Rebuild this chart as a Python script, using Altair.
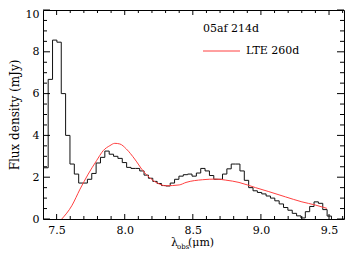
import altair as alt
import pandas as pd

# ---- data ----
hist_wl = [7.390, 7.438, 7.470, 7.502, 7.534, 7.566, 7.598, 7.630, 7.662, 7.694, 7.726,
           7.758, 7.790, 7.822, 7.854, 7.886, 7.918, 7.950, 7.982, 8.014, 8.046,
           8.078, 8.110, 8.142, 8.174, 8.206, 8.238, 8.270, 8.302, 8.334, 8.366,
           8.398, 8.430, 8.462, 8.494, 8.526, 8.558, 8.590, 8.622, 8.654, 8.686,
           8.718, 8.750, 8.782, 8.814, 8.846, 8.878, 8.910, 8.942, 8.974, 9.006,
           9.038, 9.070, 9.102, 9.134, 9.166, 9.198, 9.230, 9.262, 9.294, 9.326,
           9.358, 9.390, 9.422, 9.454, 9.486, 9.518]
hist_flux = [2.45, 6.68, 8.56, 8.46, 6.00, 4.00, 2.63, 2.15, 1.72, 1.72, 1.90,
             2.18, 2.68, 2.95, 3.25, 3.10, 3.00, 2.90, 2.70, 2.47, 2.42,
             2.42, 2.30, 2.10, 1.95, 1.80, 1.70, 1.60, 1.58, 1.72, 1.90,
             2.05, 2.12, 2.15, 2.05, 2.20, 2.42, 2.30, 2.08, 1.90, 1.90,
             2.15, 2.40, 2.63, 2.63, 2.30, 1.85, 1.50, 1.35, 1.27, 1.20,
             1.10, 1.00, 0.87, 0.72, 0.55, 0.42, 0.27, 0.15, 0.05, 0.35,
             0.60, 0.82, 0.75, 0.45, 0.14, 0.0]

model_wl = [7.538, 7.611, 7.672, 7.732, 7.793, 7.842, 7.891, 7.927, 7.964, 8.012,
            8.073, 8.134, 8.195, 8.255, 8.304, 8.400, 8.450, 8.572, 8.669, 8.742,
            8.839, 8.961, 9.058, 9.180, 9.301, 9.399, 9.484]
model_flux = [0.00, 0.63, 1.43, 2.15, 2.79, 3.27, 3.51, 3.62, 3.59, 3.35,
              2.87, 2.31, 1.91, 1.67, 1.59, 1.63, 1.75, 1.88, 1.91, 1.86,
              1.75, 1.50, 1.31, 1.06, 0.82, 0.67, 0.51]

x_major = [7.5, 8.0, 8.5, 9.0, 9.5]
x_minor = [7.6, 7.7, 7.8, 7.9, 8.1, 8.2, 8.3, 8.4, 8.6, 8.7, 8.8, 8.9,
           9.1, 9.2, 9.3, 9.4, 9.6]
y_major = [0, 2, 4, 6, 8, 10]
y_minor = [0.5, 1, 1.5, 2.5, 3, 3.5, 4.5, 5, 5.5, 6.5, 7, 7.5, 8.5, 9, 9.5]

W, H = 301, 209
FONT = "DejaVu Serif"

xs = alt.Scale(domain=[7.4, 9.61], nice=False, zero=False)
ys = alt.Scale(domain=[0, 10], nice=False, zero=False)

df_h = pd.DataFrame({"wl": hist_wl, "flux": hist_flux})
df_m = pd.DataFrame({"wl": model_wl, "flux": model_flux})

hist = alt.Chart(df_h).mark_line(
    interpolate="step-after", color="#111", strokeWidth=1, clip=True
).encode(
    x=alt.X("wl:Q", scale=xs, axis=alt.Axis(
        values=x_major, format=".1f", ticks=False, domain=False, grid=False,
        labelFont=FONT, labelFontSize=11, labelColor="#000", labelPadding=5,
        title=None)),
    y=alt.Y("flux:Q", scale=ys, axis=alt.Axis(
        values=y_major, format="d", ticks=False, domain=False, grid=False,
        labelFont=FONT, labelFontSize=11, labelColor="#000", labelPadding=4,
        labelOffset={"condition": {"test": "datum.value == 10", "value": 4}, "value": 0},
        title="Flux density (mJy)", titleFont=FONT, titleFontSize=12,
        titleFontWeight="normal", titleColor="#000", titlePadding=4)),
)

model = alt.Chart(df_m).mark_line(
    interpolate="monotone", color="#ff4040", strokeWidth=1, clip=True
).encode(x=alt.X("wl:Q", scale=xs), y=alt.Y("flux:Q", scale=ys))

dxM = pd.DataFrame({"v": x_major})
dxm = pd.DataFrame({"v": x_minor})
dyM = pd.DataFrame({"v": y_major})
dym = pd.DataFrame({"v": y_minor})

def xticks(df, length):
    b = alt.Chart(df).mark_rule(color="#000", strokeWidth=1).encode(
        x=alt.X("v:Q", scale=xs), y=alt.value(H), y2=alt.value(H - length))
    t = alt.Chart(df).mark_rule(color="#000", strokeWidth=1).encode(
        x=alt.X("v:Q", scale=xs), y=alt.value(0), y2=alt.value(length))
    return b + t

def yticks(df, length):
    l = alt.Chart(df).mark_rule(color="#000", strokeWidth=1).encode(
        y=alt.Y("v:Q", scale=ys), x=alt.value(0), x2=alt.value(length))
    r = alt.Chart(df).mark_rule(color="#000", strokeWidth=1).encode(
        y=alt.Y("v:Q", scale=ys), x=alt.value(W), x2=alt.value(W - length))
    return l + r

ticks = xticks(dxM, 5) + xticks(dxm, 3) + yticks(dyM, 7) + yticks(dym, 4)

def label(text, x, y, size=11, color="#000"):
    return alt.Chart(pd.DataFrame({"t": [text]})).mark_text(
        font=FONT, fontSize=size, align="left", baseline="middle", color=color
    ).encode(text="t:N", x=alt.value(x), y=alt.value(y))

leg1 = label("05af 214d", 160, 19)
leg2 = label("LTE 260d", 203, 41)
leg_line = alt.Chart(pd.DataFrame({"a": [0]})).mark_rule(
    color="#ff4040", strokeWidth=1
).encode(x=alt.value(160), x2=alt.value(197), y=alt.value(41))

xt1 = label("λ", 128, 233, 11)
xt2 = label("obs", 134, 236.5, 7)
xt3 = label("(μm)", 145, 233, 11)

chart = alt.layer(
    hist, model, ticks, leg1, leg2, leg_line, xt1, xt2, xt3
).properties(
    width=W, height=H,
    autosize=alt.AutoSizeParams(type="none"),
    padding={"left": 35, "top": 2, "right": 5, "bottom": 40},
).configure_view(stroke="#000", strokeWidth=1)

chart.save("out.html", embed_options={"renderer": "svg", "actions": False})
